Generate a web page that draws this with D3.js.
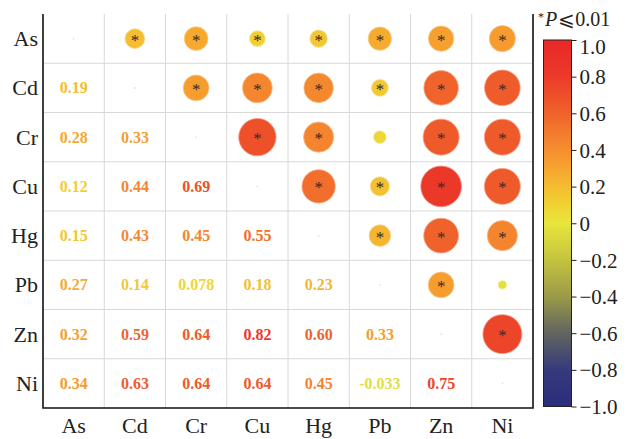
<!DOCTYPE html>
<html>
<head>
<meta charset="utf-8">
<script src="https://cdn.jsdelivr.net/npm/d3@7"></script>
<style>
  html, body { margin: 0; padding: 0; background: #fff; }
  svg { display: block; font-family: "Liberation Serif", "Times New Roman", serif; }
  svg text { font-family: "Liberation Serif", "Times New Roman", serif; }
</style>
</head>
<body>
<svg id="chart" width="627" height="439"></svg>
<script>
// Elements in the correlation matrix
const elements = ["As", "Cd", "Cr", "Cu", "Hg", "Pb", "Zn", "Ni"];

// Lower-triangle Pearson coefficients, row i holds r(i, j) for j < i
const corrLower = [
  [],
  [0.19],
  [0.28, 0.33],
  [0.12, 0.44, 0.69],
  [0.15, 0.43, 0.45, 0.55],
  [0.27, 0.14, 0.078, 0.18, 0.23],
  [0.32, 0.59, 0.64, 0.82, 0.60, 0.33],
  [0.34, 0.63, 0.64, 0.64, 0.45, -0.033, 0.75]
];

// Significance flags (P ≤ 0.01) matching corrLower
const sigLower = [
  [],
  [true],
  [true, true],
  [true, true, true],
  [true, true, true, true],
  [true, true, false, true, true],
  [true, true, true, true, true, true],
  [true, true, true, true, true, false, true]
];

// Colour bar ticks
const barTicks = [1.0, 0.8, 0.6, 0.4, 0.2, 0, -0.2, -0.4, -0.6, -0.8, -1.0];

const SERIF = "Liberation Serif, Times New Roman, serif";
const svg = d3.select("#chart");

const plot = { left: 43, right: 533, top: 14, bottom: 408 };

const x = d3.scaleBand().domain(elements).range([plot.left, plot.right]);
const y = d3.scaleBand().domain(elements).range([plot.top, plot.bottom]);

// Diverging colour map: navy -> olive -> yellow -> orange -> red
const color = d3.scaleLinear()
  .domain([-1, -0.8, -0.6, -0.4, -0.2, 0, 0.1, 0.2, 0.3, 0.4, 0.5, 0.6, 0.7, 0.8, 1])
  .range(["#2a2e7c", "#343a7c", "#626460", "#9a9a48", "#c4c33e", "#e8e63c",
          "#f0d232", "#f4bc30", "#f6a42f", "#f58e2e", "#f27a2d", "#f0622b",
          "#ee4f2a", "#ec3a29", "#e82828"])
  .interpolate(d3.interpolateRgb)
  .clamp(true);

// Circle area proportional to |r|
const radius = d3.scaleSqrt().domain([0, 1]).range([0, 22.5]);

// Build cell list (both triangles)
const cells = [];
elements.forEach((ri, i) => {
  elements.forEach((cj, j) => {
    if (j < i) {
      cells.push({ row: ri, col: cj, r: corrLower[i][j], sig: sigLower[i][j], kind: "text" });
    } else if (j > i) {
      cells.push({ row: ri, col: cj, r: corrLower[j][i], sig: sigLower[j][i], kind: "circle" });
    } else {
      cells.push({ row: ri, col: cj, r: 1, sig: false, kind: "diag" });
    }
  });
});

// Grid lines
const grid = svg.append("g").attr("stroke", "#d8d8d8").attr("stroke-width", 1);
elements.slice(1).forEach(e => {
  grid.append("line")
    .attr("x1", x(e)).attr("x2", x(e))
    .attr("y1", plot.top).attr("y2", plot.bottom);
  grid.append("line")
    .attr("x1", plot.left).attr("x2", plot.right)
    .attr("y1", y(e)).attr("y2", y(e));
});

const cx = d => x(d.col) + x.bandwidth() / 2;
const cy = d => y(d.row) + y.bandwidth() / 2;

// Upper triangle: circles
svg.append("g").selectAll("circle")
  .data(cells.filter(d => d.kind === "circle"))
  .join("circle")
  .attr("cx", cx).attr("cy", cy)
  .attr("r", d => radius(Math.abs(d.r)))
  .attr("fill", d => color(d.r))
  .attr("stroke", d => d3.interpolateRgb(color(d.r), "#fff")(0.45))
  .attr("stroke-width", 0.8);

// Significance markers
svg.append("g").selectAll("text")
  .data(cells.filter(d => d.kind === "circle" && d.sig))
  .join("text")
  .attr("x", cx).attr("y", d => cy(d) + 7)
  .attr("text-anchor", "middle")
  .attr("font-family", SERIF)
  .attr("font-size", 17)
  .attr("fill", "#3a2826")
  .text("*");

// Diagonal: faint dot
svg.append("g").selectAll("circle")
  .data(cells.filter(d => d.kind === "diag"))
  .join("circle")
  .attr("cx", cx).attr("cy", cy)
  .attr("r", 1)
  .attr("fill", "#e6e6e6");

// Lower triangle: coefficient labels
const fmt = v => d3.format(".2r")(v).replace("\u2212", "-");
svg.append("g").selectAll("text")
  .data(cells.filter(d => d.kind === "text"))
  .join("text")
  .attr("x", cx).attr("y", d => cy(d) + 5.5)
  .attr("text-anchor", "middle")
  .attr("font-family", SERIF)
  .attr("font-size", 16)
  .attr("font-weight", "bold")
  .attr("fill", d => color(d.r))
  .text(d => fmt(d.r));

// Frame: left, bottom and right edges
svg.append("path")
  .attr("d", `M${plot.left},${plot.top}V${plot.bottom}H${plot.right}V${plot.top}`)
  .attr("stroke", "#111").attr("stroke-width", 1.6).attr("fill", "none");

// Row labels
svg.append("g").selectAll("text")
  .data(elements)
  .join("text")
  .attr("x", 38)
  .attr("y", d => y(d) + y.bandwidth() / 2 + 7.5)
  .attr("text-anchor", "end")
  .attr("font-family", SERIF)
  .attr("font-size", 22)
  .attr("fill", "#222")
  .text(d => d);

// Column labels
svg.append("g").selectAll("text")
  .data(elements)
  .join("text")
  .attr("x", d => x(d) + x.bandwidth() / 2)
  .attr("y", 433)
  .attr("text-anchor", "middle")
  .attr("font-family", SERIF)
  .attr("font-size", 22)
  .attr("fill", "#222")
  .text(d => d);

// Colour bar
const bar = { x: 543.5, w: 28, top: 40, bottom: 406.5 };
const yBar = d3.scaleLinear().domain([-1, 1]).range([bar.bottom, bar.top]);

const defs = svg.append("defs");
const grad = defs.append("linearGradient")
  .attr("id", "cbar")
  .attr("x1", 0).attr("y1", 1).attr("x2", 0).attr("y2", 0);
d3.range(-1, 1.0001, 0.05).forEach(v => {
  grad.append("stop")
    .attr("offset", (v + 1) / 2)
    .attr("stop-color", color(v));
});

svg.append("rect")
  .attr("x", bar.x).attr("y", bar.top)
  .attr("width", bar.w).attr("height", bar.bottom - bar.top)
  .attr("fill", "url(#cbar)")
  .attr("stroke", "#222").attr("stroke-width", 1);

const barAxis = d3.axisRight(yBar)
  .tickValues(barTicks)
  .tickSize(5)
  .tickPadding(3)
  .tickFormat(v => v === 0 ? "0" : d3.format(".1f")(v));

const gBar = svg.append("g")
  .attr("transform", `translate(${bar.x + bar.w},0)`)
  .call(barAxis);
gBar.select(".domain").remove();
gBar.selectAll(".tick line").attr("stroke", "#222");
gBar.selectAll(".tick text")
  .attr("font-family", SERIF)
  .attr("font-size", 21)
  .attr("fill", "#222")
  .attr("dy", v => v === 1 ? "0.62em" : "0.34em");

// Significance legend
const title = svg.append("text")
  .attr("x", 538).attr("y", 26)
  .attr("font-family", SERIF)
  .attr("font-size", 20)
  .attr("fill", "#222");
title.append("tspan").attr("font-size", 12).attr("dy", -5).text("*");
title.append("tspan").attr("font-style", "italic").attr("dy", 5).attr("dx", 1).text("P");
title.append("tspan").attr("dx", 1).text("\u2A7D0.01");
</script>
</body>
</html>
